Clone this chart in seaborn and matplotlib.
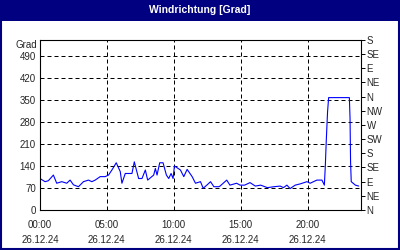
import matplotlib
matplotlib.use("Agg")
import matplotlib.pyplot as plt
from matplotlib.patches import Rectangle
import seaborn as sns
import pandas as pd

hours = [0.0, 0.375, 0.625, 1.0, 1.25, 1.625, 2.0, 2.25, 2.5, 2.875, 3.25, 3.625, 3.875,
         4.125, 4.5, 4.875, 5.125, 5.375, 5.7, 6.0, 6.125, 6.375, 6.875, 7.05, 7.375, 7.625,
         7.875, 8.05, 8.5, 8.625, 8.75, 8.95, 9.2, 9.45, 9.625, 9.8, 9.95, 10.05, 10.5, 10.75,
         11.0, 11.375, 11.625, 12.0, 12.2, 12.5, 12.75, 13.0, 13.375,
         13.46, 13.96, 14.2, 14.7, 14.96, 15.3, 15.7, 16.1, 16.5, 17.0, 17.5, 17.96, 18.2,
         18.46, 18.7, 19.08, 19.46, 19.96, 20.2, 20.7, 21.08, 21.26, 21.33, 21.4, 21.5, 21.58,
         23.13, 23.18, 23.22, 23.27, 23.58, 23.83]
values = [100, 90, 93, 111, 85, 90, 85, 95, 80, 74, 90, 95, 90,
          95, 106, 106, 111, 127, 150, 122, 85, 116, 116, 153, 100, 100,
          127, 95, 111, 132, 111, 150, 150, 111, 100, 116, 100, 140, 127, 106,
          129, 106, 85, 90, 69, 80, 90, 74, 74,
          76, 95, 79, 85, 79, 79, 87, 76, 79, 71, 74, 76, 71,
          79, 68, 79, 83, 90, 85, 95, 95, 79, 138, 217, 312, 357,
          357, 292, 153, 90, 79, 76]

left_ticks = [0, 70, 140, 210, 280, 350, 420, 490]
right_ticks = [0, 45, 90, 135, 180, 225, 270, 315, 360, 405, 450, 495, 540]
right_labels = ["N", "NE", "E", "SE", "S", "SW", "W", "NW", "N", "NE", "E", "SE", "S"]
x_ticks = [0, 5, 10, 15, 20]
x_labels = ["00:00\n26.12.24", "05:00\n26.12.24", "10:00\n26.12.24",
            "15:00\n26.12.24", "20:00\n26.12.24"]
title = "Windrichtung [Grad]"
unit = "Grad"

sns.set_style("white")
plt.rcParams['font.family'] = ['Liberation Sans', 'DejaVu Sans']

df = pd.DataFrame({"h": hours, "v": values})

fig = plt.figure(figsize=(4, 2.5), dpi=100)
fig.patch.set_facecolor("white")
navy = "#000080"
fig.patches.append(Rectangle((0, 0.918), 1, 0.082, transform=fig.transFigure,
                             facecolor=navy, edgecolor="none", zorder=0))
fig.patches.append(Rectangle((0.0025, 0.004), 0.995, 0.992, transform=fig.transFigure,
                             facecolor="none", edgecolor=navy, linewidth=1.5, zorder=1))
fig.text(0.5, 0.96, title, color="white", fontsize=7.5, fontweight="bold",
         ha="center", va="center")

ax = fig.add_axes([0.1, 0.16, 0.8025, 0.68])
sns.lineplot(data=df, x="h", y="v", ax=ax, color="#0000ff", linewidth=0.8)
ax.set_xlim(0, 24)
ax.set_ylim(0, 540)
ax.set_xlabel("")
ax.set_ylabel("")
ax.set_yticks(left_ticks)
ax.set_yticklabels([str(t) for t in left_ticks], fontsize=7)
ax.set_xticks(x_ticks)
ax.set_xticklabels(x_labels, fontsize=7, linespacing=1.6)
ax.set_xticks(range(0, 25), minor=True)
ax.tick_params(axis="x", which="minor", direction="in", length=3, width=0.7, color="black")
ax.tick_params(axis="x", which="major", direction="in", length=3, width=0.7, pad=7, color="black")
ax.tick_params(axis="y", which="major", direction="in", length=0, pad=3)
ax.grid(True, color="black", linestyle=(0, (4, 3)), linewidth=0.72)
for s in ax.spines.values():
    s.set_color("black")
    s.set_linewidth(0.8)
    s.set_visible(True)

ax2 = ax.twinx()
ax2.set_ylim(0, 540)
ax2.set_yticks(right_ticks)
ax2.set_yticklabels(right_labels, fontsize=7)
ax2.tick_params(axis="y", direction="out", length=3, width=0.7, pad=1, color="black")
for s in ax2.spines.values():
    s.set_visible(False)

fig.text(0.093, 0.82, unit, fontsize=7, ha="right", va="center")

fig.savefig("out.png", dpi=100)
